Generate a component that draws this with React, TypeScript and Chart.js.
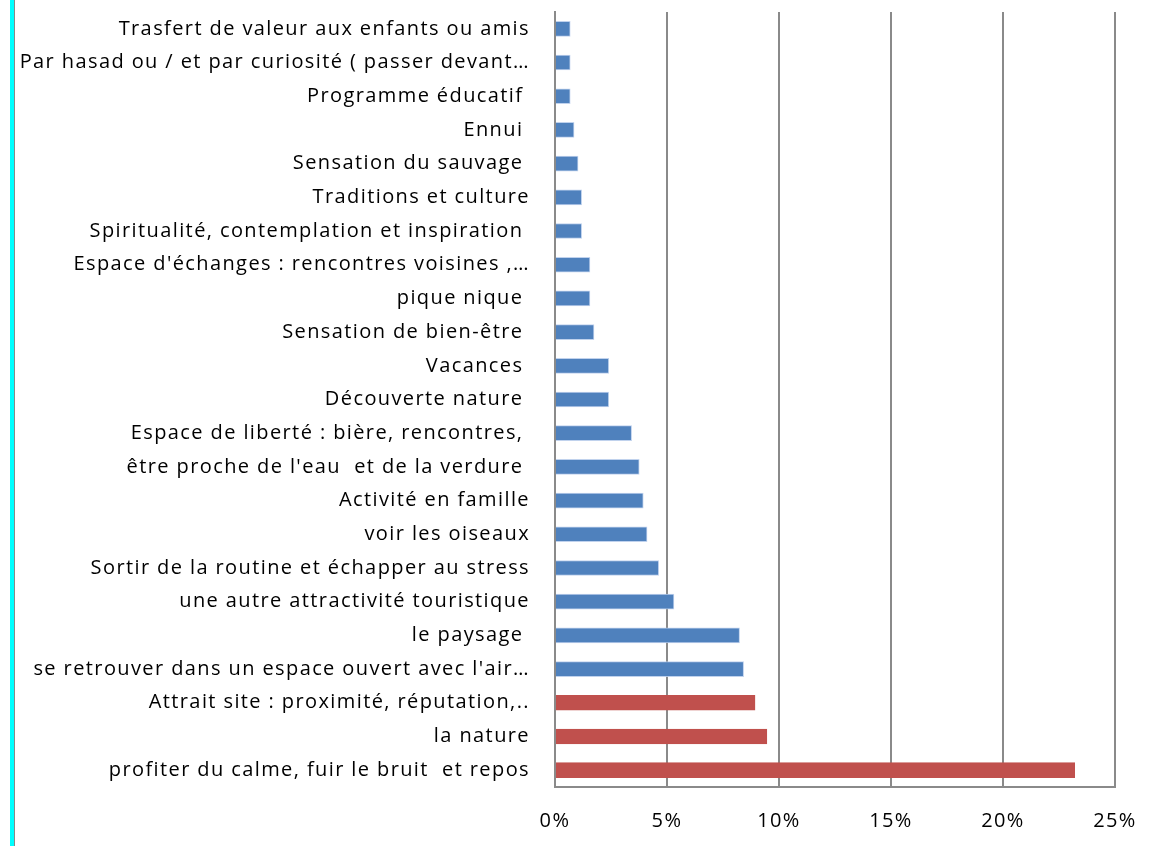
import React, { useEffect, useRef } from "react";
import { Chart, registerables } from "chart.js";

Chart.register(...registerables);

const categories: string[] = [
  "Trasfert de valeur aux enfants ou amis",
  "Par hasad ou / et par curiosité ( passer devant…",
  "Programme éducatif ",
  "Ennui ",
  "Sensation du sauvage ",
  "Traditions et culture",
  "Spiritualité, contemplation et inspiration ",
  "Espace d'échanges : rencontres voisines ,…",
  "pique nique ",
  "Sensation de bien-être ",
  "Vacances ",
  "Découverte nature ",
  "Espace de liberté : bière, rencontres, ",
  "être proche de l'eau  et de la verdure ",
  "Activité en famille",
  "voir les oiseaux",
  "Sortir de la routine et échapper au stress",
  "une autre attractivité touristique",
  "le paysage ",
  "se retrouver dans un espace ouvert avec l'air…",
  "Attrait site : proximité, réputation,..",
  "la nature",
  "profiter du calme, fuir le bruit  et repos",
];

const values: number[] = [
  0.0068, 0.0068, 0.0068, 0.0085, 0.0103, 0.0119, 0.0119, 0.0156, 0.0156,
  0.0174, 0.024, 0.024, 0.0342, 0.0376, 0.0394, 0.0411, 0.0463, 0.0531,
  0.0824, 0.0842, 0.0893, 0.0946, 0.232,
];

const highlighted: boolean[] = categories.map((_, i) => i >= 20);

const xTicks: number[] = [0, 0.05, 0.1, 0.15, 0.2, 0.25];

const BLUE = "#4F81BD";
const RED = "#C0504D";
const FONT = "'Open Sans', sans-serif";
const SPACING = "1.4px";

const spacingPlugin = {
  id: "letterSpacing",
  beforeLayout(chart: any) {
    chart.ctx.letterSpacing = SPACING;
  },
  beforeDraw(chart: any) {
    chart.ctx.letterSpacing = SPACING;
  },
};

export default function App() {
  const ref = useRef<HTMLCanvasElement | null>(null);

  useEffect(() => {
    if (!ref.current) return;
    const chart = new Chart(ref.current, {
      type: "bar",
      data: {
        labels: categories,
        datasets: [
          {
            data: values,
            backgroundColor: highlighted.map((h) => (h ? RED : BLUE)),
            borderColor: highlighted.map((h) => (h ? RED : "rgba(185,205,235,0.9)")),
            borderWidth: 1,
            borderSkipped: "start",
            barThickness: 15,
          },
        ],
      },
      plugins: [spacingPlugin],
      options: {
        indexAxis: "y",
        animation: false,
        responsive: false,
        maintainAspectRatio: false,
        layout: { padding: { top: 12, right: 45, left: 0, bottom: 0 } },
        plugins: {
          legend: { display: false },
          tooltip: { enabled: false },
        },
        scales: {
          x: {
            min: 0,
            max: 0.25,
            afterBuildTicks: (s: any) => {
              s.ticks = xTicks.map((v) => ({ value: v }));
            },
            afterFit: (s: any) => {
              s.height = 59;
              s.paddingLeft = 0;
              s.paddingRight = 0;
            },
            grid: {
              color: "#8a8a8a",
              lineWidth: 2,
              drawTicks: false,
            },
            border: { display: true, color: "#8a8a8a", width: 2 },
            ticks: {
              padding: 22,
              color: "#000",
              font: { family: FONT, size: 20 },
              callback: (v: any) => `${Math.round(Number(v) * 100)}%`,
            },
          },
          y: {
            afterFit: (s: any) => {
              s.width = 555;
              s.paddingTop = 0;
              s.paddingBottom = 0;
            },
            grid: { display: false, drawTicks: false },
            border: { display: true, color: "#8a8a8a", width: 2 },
            ticks: {
              padding: 25,
              autoSkip: false,
              color: "#000",
              font: { family: FONT, size: 20 },
            },
          },
        },
      },
    });
    return () => chart.destroy();
  }, []);

  return (
    <div
      style={{
        position: "fixed",
        left: 0,
        top: 0,
        width: 1160,
        height: 846,
        background: "#fff",
      }}
    >
      <div
        style={{
          position: "absolute",
          left: 10,
          top: 0,
          width: 4,
          height: 846,
          background: "#00FFFF",
        }}
      />
      <div
        style={{
          position: "absolute",
          left: 14,
          top: 0,
          width: 1,
          height: 846,
          background: "#888",
        }}
      />
      <canvas
        ref={ref}
        width={1160}
        height={846}
        style={{ position: "absolute", left: 0, top: 0 }}
      />
    </div>
  );
}
